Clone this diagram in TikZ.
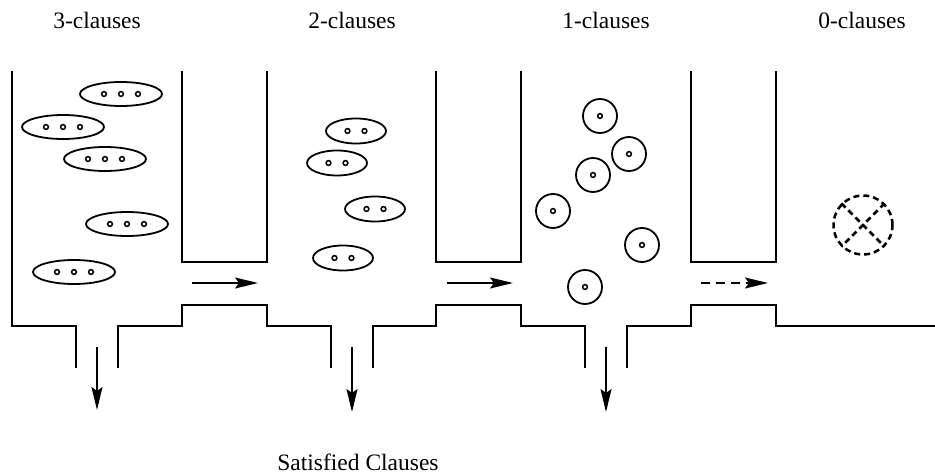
\documentclass[tikz,border=0pt]{standalone}
\usepackage{fontspec}
\setmainfont{Liberation Serif}
\usetikzlibrary{shapes.geometric,arrows.meta}
\tikzset{
  wall/.style={line width=2pt, line cap=rect, line join=miter},
  clause3/.style={draw, ellipse, line width=1.8pt, minimum width=82pt, minimum height=24pt, inner sep=0pt},
  clause2/.style={draw, ellipse, line width=1.8pt, minimum width=60pt, minimum height=25pt, inner sep=0pt},
  clause1/.style={draw, circle, line width=1.8pt, minimum size=34pt, inner sep=0pt},
  clause0/.style={draw, circle, line width=2.5pt, dash pattern=on 6pt off 4pt, minimum size=59pt, inner sep=0pt},
  lit/.style={line width=1.5pt},
  flow/.style={line width=1.6pt, -{Stealth[length=23pt, width=11pt, inset=4pt]}},
  dflow/.style={flow, dash pattern=on 9pt off 6pt},
  lab/.style={anchor=base, font=\fontsize{23.5pt}{28pt}\selectfont, inner sep=0pt},
}
\newcommand\litdots[2]{\foreach \d in {#2} \draw[lit] ([xshift=\d pt]#1.center) circle (2.4);}
\begin{document}
\begin{tikzpicture}[x=1pt,y=-1pt]
\useasboundingbox (0,0) rectangle (935,476);
% labels
\node[lab] (l3) at (97,29) {3-clauses};
\node[lab] (l2) at (352,29) {2-clauses};
\node[lab] (l1) at (606,29) {1-clauses};
\node[lab] (l0) at (862,29) {0-clauses};
\node[lab] (sat) at (358,470) {Satisfied Clauses};
% walls
\draw[wall] (12,72) -- (12,326) -- (76,326) -- (76,367);
\draw[wall] (118,367) -- (118,326) -- (182,326) -- (182,305) -- (267,305) -- (267,326) -- (331,326) -- (331,367);
\draw[wall] (373,367) -- (373,326) -- (436,326) -- (436,305) -- (521,305) -- (521,326) -- (585,326) -- (585,367);
\draw[wall] (627,367) -- (627,326) -- (691,326) -- (691,305) -- (776,305) -- (776,326) -- (935,326);
\draw[wall] (182,72) -- (182,262) -- (267,262) -- (267,72);
\draw[wall] (436,72) -- (436,262) -- (521,262) -- (521,72);
\draw[wall] (691,72) -- (691,262) -- (776,262) -- (776,72);
% 3-clauses
\node[clause3] (a1) at (121,94) {};
\node[clause3] (a2) at (63,127) {};
\node[clause3] (a3) at (105,159) {};
\node[clause3] (a4) at (127,224) {};
\node[clause3] (a5) at (74,272) {};
\foreach \n in {a1,a2,a3,a4,a5} {\litdots{\n}{-17,0,17}}
% 2-clauses
\node[clause2] (b1) at (356,131) {};
\node[clause2] (b2) at (337,163) {};
\node[clause2] (b3) at (375,209) {};
\node[clause2] (b4) at (343,258) {};
\foreach \n in {b1,b2,b3,b4} {\litdots{\n}{-8.5,8.5}}
% 1-clauses
\node[clause1] (c1) at (600,116) {};
\node[clause1] (c2) at (629,154) {};
\node[clause1] (c3) at (593,175) {};
\node[clause1] (c4) at (553,211) {};
\node[clause1] (c5) at (642,245) {};
\node[clause1] (c6) at (585,287) {};
\foreach \n in {c1,c2,c3,c4,c5,c6} {\litdots{\n}{0}}
% 0-clause
\node[clause0] (z) at (863,225) {};
\draw[line width=2.5pt, dash pattern=on 6pt off 4pt] (z.north west) -- (z.south east);
\draw[line width=2.5pt, dash pattern=on 6pt off 4pt] (z.north east) -- (z.south west);
% horizontal flows
\coordinate (h1s) at (192,283); \coordinate (h1e) at (258,283);
\coordinate (h2s) at (447,283); \coordinate (h2e) at (513,283);
\coordinate (h3s) at (701,283); \coordinate (h3e) at (768,283);
\draw[flow] (h1s) -- (h1e);
\draw[flow] (h2s) -- (h2e);
\draw[dflow] (h3s) -- (h3e);
% down flows
\coordinate (d1s) at (97,347); \coordinate (d1e) at (97,410);
\coordinate (d2s) at (352,347); \coordinate (d2e) at (352,412);
\coordinate (d3s) at (606,347); \coordinate (d3e) at (606,412);
\draw[flow] (d1s) -- (d1e);
\draw[flow] (d2s) -- (d2e);
\draw[flow] (d3s) -- (d3e);
\end{tikzpicture}
\end{document}
